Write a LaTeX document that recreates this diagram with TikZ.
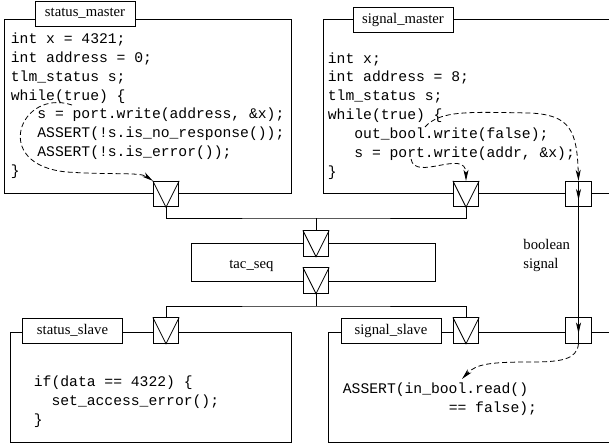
\documentclass[tikz,border=0pt]{standalone}
\usepackage{fontspec}
\setmainfont{Liberation Serif}
\setmonofont{Liberation Mono}
\usetikzlibrary{arrows.meta}
\newcommand{\figfont}{\fontsize{14.7}{18.9}\selectfont}

\begin{document}
\begin{tikzpicture}[x=1pt, y=-1pt, line width=0.8pt, font=\figfont,
    modbox/.style={draw, rectangle, anchor=north west, inner sep=0pt},
    tagbox/.style={draw, rectangle, fill=white, minimum width=100pt, minimum height=25pt, inner sep=0pt},
    portbox/.style={draw, rectangle, fill=white, minimum size=25.5pt, inner sep=0pt},
    codetext/.style={anchor=base west, align=left, inner sep=0pt, font=\figfont\ttfamily},
    flow/.style={-{Stealth[length=11pt, width=5pt, inset=3pt]}},
    dashflow/.style={flow, dash pattern=on 5pt off 3pt}]
				\useasboundingbox (0,0) rectangle (609,447);
				% modules
				\node[modbox, minimum width=287pt, minimum height=174pt] (SM)at(4, 19) {};
				\node[modbox, minimum width=300pt, minimum height=174pt] (GM)at(323, 19) {};
				\node[modbox, minimum width=244pt, minimum height=38pt, label={[xshift=-62pt, yshift=-4pt]center:tac\_seq}] (TS)at(191, 243) {};
				\node[modbox, minimum width=281pt, minimum height=110pt] (SS)at(10, 332) {};
				\node[modbox, minimum width=300pt, minimum height=110pt] (GS)at(328, 332) {};
				% names
				\node[tagbox] (SMT)at(85, 13.5) {status\_master};
				\node[tagbox] (GMT)at(403, 19.5) {signal\_master};
				\node[tagbox] (SST)at(72.5, 330.5) {status\_slave};
				\node[tagbox] (GST)at(391, 330.5) {signal\_slave};
				% ports
				\node[portbox] (SMP)at(166, 194) {};
				\node[portbox] (GMP)at(466, 194) {};
				\node[portbox] (GMB)at(578.5, 194) {};
				\node[portbox] (TU)at(316, 243.5) {};
				\node[portbox] (TL)at(316, 280.5) {};
				\node[portbox] (SSP)at(166, 330.5) {};
				\node[portbox] (GSP)at(466, 330.5) {};
				\node[portbox] (GSB)at(578.5, 330.5) {};
				\foreach \p in {SMP, GMP, TU, TL, SSP, GSP}
					\draw (\p.north west) -- (\p.south) -- (\p.north east);
				% bus
				\coordinate (BU)at(316, 218);
				\coordinate (BL)at(316, 306);
				\draw (SMP.south) |- (BU) -| (GMP.south);
				\draw (BU) -- (TU.north);
				\draw (TL.south) -- (BL);
				\draw (SSP.north) |- (BL) -| (GSP.north);
				% boolean signal
				\draw[flow] (GMB.north) -- ([yshift=-6pt]GMB.center);
				\draw[flow] (GMB.center) -- ([yshift=-3pt]GSB.center);
				\draw (GSB.center) -- (GSB.south);
				\node[anchor=base west, align=left, inner sep=0pt] (BSL)at(523, 268.2) {boolean\\signal};
				% code (base = last line)
				\node[codetext] (SMC)at(10.5, 175.6) {int x = 4321;\\int address = 0;\\tlm\_status s;\\while(true) \{\\\ \ \ s = port.write(address, \&x);\\\ \ \ ASSERT(!s.is\_no\_response());\\\ \ \ ASSERT(!s.is\_error());\\\}};
				\node[codetext] (GMC)at(327.5, 176.4) {int x;\\int address = 8;\\tlm\_status s;\\while(true) \{\\\ \ \ out\_bool.write(false);\\\ \ \ s = port.write(addr, \&x);\\\}};
				\node[codetext] (SSC)at(33.5, 424.5) {if(data == 4322) \{\\\ \ set\_access\_error();\\\}};
				\node[codetext] (GSC)at(342.5, 412.2) {ASSERT(in\_bool.read()\\\ \ \ \ \ \ \ \ \ \ \ \ == false);};
				% control flow
				\coordinate (SMa)at(72, 105);
				\coordinate (GMa)at(411, 159);
				\coordinate (GMb)at(425, 127);
				\coordinate (GSa)at(462, 379);
				\draw[dashflow] (SMa) .. controls (20, 88) and (-10, 165) .. (67, 172) .. controls (110, 175) and (140, 172) .. (SMP.north west);
				\draw[dashflow] (GMa) .. controls (415, 182) and (466, 148) .. (GMP.north);
				\draw[dashflow] (GMb) .. controls (440, 110) and (470, 112) .. (530, 113) .. controls (570, 115) and (577, 130) .. (GMB.north);
				\draw[dashflow] (GSB.south) .. controls (577, 360) and (560, 362) .. (530, 362) .. controls (490, 362) and (476, 364) .. (GSa);
			\end{tikzpicture}
\end{document}
